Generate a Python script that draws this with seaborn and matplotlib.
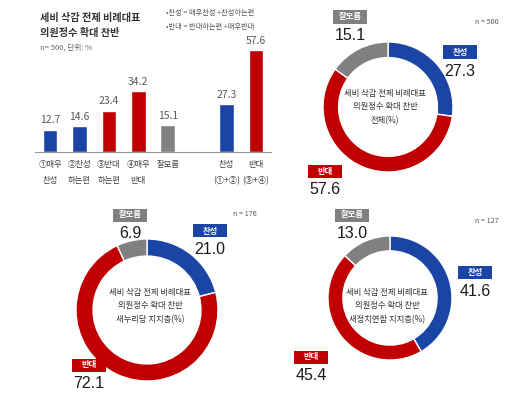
import matplotlib
matplotlib.use("Agg")
import matplotlib.pyplot as plt
import seaborn as sns
import pandas as pd
from matplotlib.patches import Rectangle

# ---------------- data ----------------
bar_categories = ["①매우\n찬성", "②찬성\n하는편", "③반대\n하는편", "④매우\n반대", "잘모름",
                  "찬성\n(①+②)", "반대\n(③+④)"]
bar_values = [12.7, 14.6, 23.4, 34.2, 15.1, 27.3, 57.6]
bar_groups = ["찬성", "찬성", "반대", "반대", "잘모름", "찬성", "반대"]

donut_labels = ["찬성", "반대", "잘모름"]
donut_total = [27.3, 57.6, 15.1]
donut_saenuri = [21.0, 72.1, 6.9]
donut_npad = [41.6, 45.4, 13.0]
donut_n = ["n = 500", "n = 176", "n = 127"]
donut_titles = ["세비 삭감 전제 비례대표\n의원정수 확대 찬반\n전체(%)",
                "세비 삭감 전제 비례대표\n의원정수 확대 찬반\n새누리당 지지층(%)",
                "세비 삭감 전제 비례대표\n의원정수 확대 찬반\n새정치연합 지지층(%)"]

title_lines = ["세비 삭감 전제 비례대표", "의원정수 확대 찬반"]
subtitle = "n= 500, 단위: %"
legend_lines = ["•찬성 = 매우찬성 +찬성하는편", "•반대 = 반대하는편 +매우반대"]

# ---------------- style ----------------
sns.set_theme(style="white")
plt.rcParams["font.family"] = ["Noto Sans CJK KR", "DejaVu Sans"]

BLUE = "#1B45A5"
RED = "#C00000"
GRAY = "#808080"
palette = {"찬성": BLUE, "반대": RED, "잘모름": GRAY}

W, H = 520, 396
fig = plt.figure(figsize=(W / 100, H / 100), dpi=100)
fig.patch.set_facecolor("white")


def P(x, y):
    return x / W, 1 - y / H


def ax_rect(x0, y0, x1, y1):
    return [x0 / W, 1 - y1 / H, (x1 - x0) / W, (y1 - y0) / H]


# ---------------- bar chart ----------------
axb = fig.add_axes(ax_rect(35.4, 37, 270.6, 152))
df = pd.DataFrame({"cat": bar_categories, "val": bar_values, "grp": bar_groups})
order = bar_categories[:5] + [" "] + bar_categories[5:]
sns.barplot(data=df, x="cat", y="val", hue="grp", palette=palette, order=order,
            width=0.5, dodge=False, legend=False, ax=axb, saturation=1)
for c in axb.containers:
    axb.bar_label(c, fmt="%.1f", padding=3, fontsize=7.5, color="#595959")
axb.set_xlim(-0.5, len(order) - 0.5)
axb.set_ylim(0, 65)
axb.set_xlabel("")
axb.set_ylabel("")
axb.set_yticks([])
axb.set_xticks(range(len(order)))
axb.set_xticklabels(order, fontsize=6, color="#404040", linespacing=1.9)
axb.tick_params(axis="x", length=0, pad=6)
axb.set_xticks([i - 0.5 for i in range(len(order) + 1)], minor=True)
axb.tick_params(axis="x", which="minor", length=4, color="#999999", width=0.8, direction="out")
for s in ["top", "right", "left"]:
    axb.spines[s].set_visible(False)
axb.spines["bottom"].set_color("#999999")
axb.spines["bottom"].set_linewidth(0.8)
axb.set_facecolor("none")

fig.text(*P(40, 18), title_lines[0], fontsize=7.3, fontweight="bold", color="#333333", va="center")
fig.text(*P(40, 33), title_lines[1], fontsize=7.3, fontweight="bold", color="#333333", va="center")
fig.text(*P(40, 48), subtitle, fontsize=5.5, color="#666666", va="center")
fig.text(*P(166, 13), legend_lines[0], fontsize=5.2, color="#555555", va="center")
fig.text(*P(166, 27), legend_lines[1], fontsize=5.2, color="#555555", va="center")


# ---------------- donuts ----------------
def donut(values, cx, cy, r, title, title_xy, n_text, n_xy, label_pos):
    ax = fig.add_axes(ax_rect(cx - r, cy - r, cx + r, cy + r))
    ax.pie(values, colors=[palette[k] for k in donut_labels], startangle=90,
           counterclock=False, radius=1,
           wedgeprops=dict(width=0.24, edgecolor="white", linewidth=1))
    ax.set_xlim(-1, 1)
    ax.set_ylim(-1, 1)
    ax.set_aspect("equal")
    ax.axis("off")
    fig.text(*P(*title_xy), title, fontsize=6, color="#333333", ha="center", va="center",
             linespacing=1.6)
    fig.text(*P(*n_xy), n_text, fontsize=5.2, color="#555555", ha="center", va="center")
    for lab, val, (bx, by) in zip(donut_labels, values, label_pos):
        bw, bh = 34, 13
        x0, y0 = P(bx - bw / 2, by + bh / 2)
        fig.add_artist(Rectangle((x0, y0), bw / W, bh / H, transform=fig.transFigure,
                                 facecolor=palette[lab], edgecolor="none"))
        fig.text(*P(bx, by), lab, fontsize=6, color="white", ha="center", va="center",
                 fontweight="bold")
        fig.text(*P(bx, by + 19), f"{val:.1f}", fontsize=11.5, color="#1a1a1a",
                 ha="center", va="center", family=["Liberation Sans", "DejaVu Sans"])


donut(donut_total, 388, 107, 65, donut_titles[0], (385, 107), donut_n[0], (487, 22),
      [(460, 52), (325, 171), (350, 17)])
donut(donut_saenuri, 147, 310, 71, donut_titles[1], (150, 306), donut_n[1], (245, 214),
      [(210, 231), (89, 365), (130, 215)])
donut(donut_npad, 390, 298, 62, donut_titles[2], (387, 306), donut_n[2], (487, 221),
      [(475, 272), (311, 357), (352, 215)])

fig.savefig("out.png", dpi=100, facecolor="white")
